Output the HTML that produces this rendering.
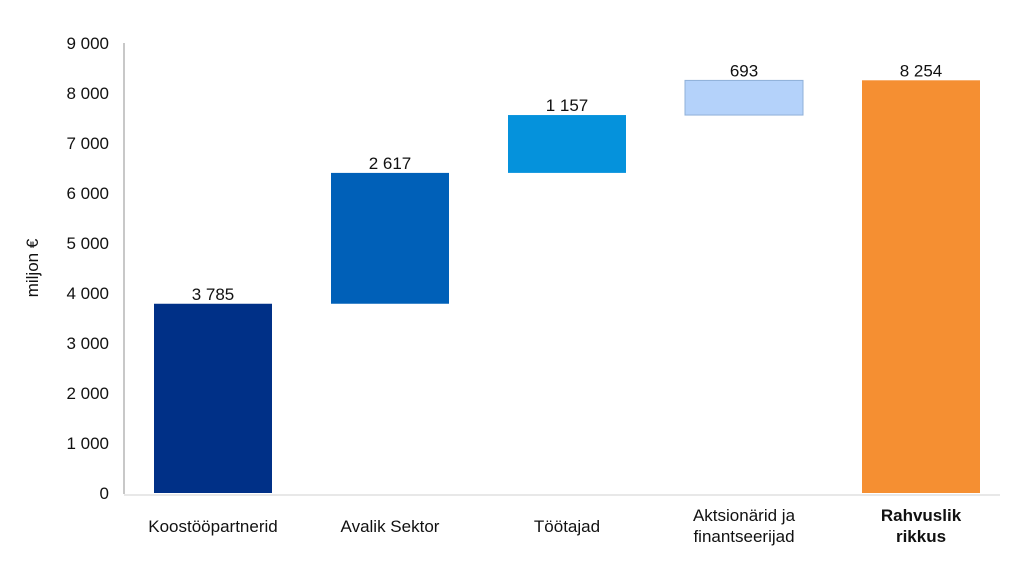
<!DOCTYPE html>
<html><head><meta charset="utf-8"><style>
html,body{margin:0;padding:0;background:#fff;}
svg{display:block;font-family:"Liberation Sans",Arial,sans-serif;}
</style></head><body>
<svg id="chart" width="1010" height="568" viewBox="0 0 1010 568">
<text x="38" y="268" font-size="17" fill="#111" text-anchor="middle" transform="rotate(-90 38 268)">miljon €</text>
<line x1="124" y1="43" x2="124" y2="494" stroke="#c8c8c8" stroke-width="2"/>
<line x1="124" y1="495" x2="1000" y2="495" stroke="#e0e0e0" stroke-width="1.5"/>
<g id="yticks"></g><g id="bars"></g><g id="xlabels"></g>
</svg>
<script>
const categories = ["Koostööpartnerid","Avalik Sektor","Töötajad","Aktsionärid ja|finantseerijad","Rahvuslik|rikkus"];
const values = [3785, 2617, 1157, 693, 8254];
const isTotal = [false,false,false,false,true];
const valueLabels = ["3 785","2 617","1 157","693","8 254"];
const tickValues = [0,1000,2000,3000,4000,5000,6000,7000,8000,9000];
const tickLabels = ["0","1 000","2 000","3 000","4 000","5 000","6 000","7 000","8 000","9 000"];
const colors = ["#003087","#0060b8","#0592dc","#b4d2fa","#f58f32"];
const NS="http://www.w3.org/2000/svg";
const y0=493, pxPer=450/9000;
function yScale(v){return y0 - v*pxPer;}
function xBand(i){return 154 + i*177;}
const bw=118;
const yt=document.getElementById('yticks');
tickValues.forEach((v,i)=>{
  const t=document.createElementNS(NS,'text');
  
  
  t.setAttribute('x',109);t.setAttribute('y',yScale(v)+6);
  t.setAttribute('text-anchor','end');t.setAttribute('font-size','17');t.setAttribute('fill','#111');
  t.textContent=tickLabels[i];yt.appendChild(t);
});
const bg=document.getElementById('bars'), xl=document.getElementById('xlabels');
let cum=0;
values.forEach((v,i)=>{
  let base=isTotal[i]?0:cum, top=base+v;
  if(!isTotal[i]) cum=top;
  const r=document.createElementNS(NS,'rect');
  
  
  r.setAttribute('x',xBand(i));r.setAttribute('width',bw);
  r.setAttribute('y',yScale(top));r.setAttribute('height',yScale(base)-yScale(top));
  r.setAttribute('fill',colors[i]);
  if(i==3){r.setAttribute('stroke','#8fb0d8');r.setAttribute('stroke-width','1');}
  bg.appendChild(r);
  const t=document.createElementNS(NS,'text');
  
  
  t.setAttribute('x',xBand(i)+bw/2);t.setAttribute('y',yScale(top)-4);
  t.setAttribute('text-anchor','middle');t.setAttribute('font-size','17');t.setAttribute('fill','#111');
  t.textContent=valueLabels[i];bg.appendChild(t);
  const lines=categories[i].split('|');
  lines.forEach((ln,j)=>{
    const c=document.createElementNS(NS,'text');
    
    
    c.setAttribute('x',xBand(i)+bw/2);
    c.setAttribute('y',(lines.length==1?532:521)+j*21);
    c.setAttribute('text-anchor','middle');c.setAttribute('font-size','17');c.setAttribute('fill','#111');
    if(isTotal[i]) c.setAttribute('font-weight','bold');
    c.textContent=ln;xl.appendChild(c);
  });
});
</script>
</body></html>
